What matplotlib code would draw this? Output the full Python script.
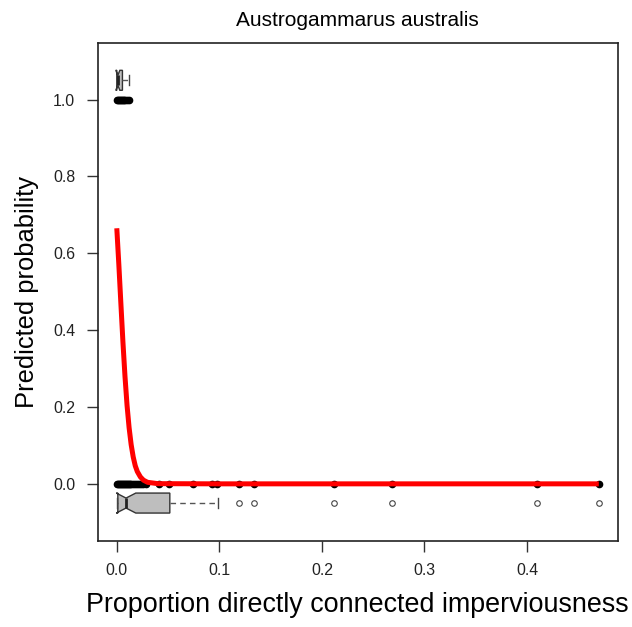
import matplotlib
matplotlib.use("Agg")
import matplotlib.pyplot as plt

plt.rcParams['font.family'] = ['Liberation Sans', 'DejaVu Sans']

# observed values (presence = 1, absence = 0)
x_present = [0.0, 0.001, 0.002, 0.003, 0.004, 0.005, 0.006, 0.007, 0.008, 0.010, 0.012]
x_absent = [0.0, 0.001, 0.002, 0.003, 0.004, 0.005, 0.006, 0.007, 0.008, 0.009,
            0.010, 0.011, 0.012, 0.013, 0.014, 0.016, 0.018, 0.020, 0.022, 0.024,
            0.026, 0.028, 0.041, 0.051, 0.074, 0.093, 0.098, 0.1195, 0.134,
            0.2115, 0.268, 0.41, 0.47]

# fitted curve
curve_x = [0.0, 0.002, 0.004, 0.006, 0.008, 0.010, 0.012, 0.014, 0.016, 0.018,
           0.020, 0.023, 0.026, 0.030, 0.040, 0.10, 0.20, 0.30, 0.47]
curve_p = [0.665, 0.57, 0.468, 0.368, 0.279, 0.204, 0.146, 0.102, 0.070, 0.047,
           0.032, 0.018, 0.0096, 0.004, 0.0005, 0.0, 0.0, 0.0, 0.0]

# boxplot summaries
box_absent = dict(whislo=0.0, q1=0.001, med=0.009, q3=0.0517, whishi=0.0987,
                  cilo=-0.0005, cihi=0.0185,
                  fliers=[0.1195, 0.134, 0.2115, 0.268, 0.41, 0.47])
box_present = dict(whislo=0.0, q1=0.0, med=0.001, q3=0.0055, whishi=0.0117,
                   cilo=-0.001, cihi=0.003, fliers=[])

fig = plt.figure(figsize=(6.32, 6.27), dpi=100)
ax = fig.add_axes([0.1543, 0.1376, 0.978 - 0.1543, 0.932 - 0.1376])

ax.plot(x_present, [1] * len(x_present), 'o', color='black', ms=4.5, zorder=3)
ax.plot(x_absent, [0] * len(x_absent), 'o', color='black', ms=4.5, zorder=3)
ax.plot(curve_x, curve_p, color='red', lw=3.6, zorder=4, solid_capstyle='butt')

ax.bxp([box_absent, box_present], positions=[-0.05, 1.05], widths=0.052,
       orientation='horizontal', shownotches=True, patch_artist=True,
       boxprops=dict(facecolor='#bebebe', edgecolor='#333333', lw=1),
       whiskerprops=dict(color='#555555', lw=1, ls=(0, (4, 3))),
       capprops=dict(color='#444444', lw=1),
       medianprops=dict(color='#222222', lw=2),
       flierprops=dict(marker='o', mfc='white', mec='#444444', ms=4, mew=0.8),
       manage_ticks=False)

ax.set_xlim(-0.0188, 0.4888)
ax.set_ylim(-0.148, 1.148)
ax.set_xticks([0.0, 0.1, 0.2, 0.3, 0.4])
ax.set_yticks([0.0, 0.2, 0.4, 0.6, 0.8, 1.0])
ax.xaxis.set_major_formatter(matplotlib.ticker.FormatStrFormatter('%.1f'))
ax.yaxis.set_major_formatter(matplotlib.ticker.FormatStrFormatter('%.1f'))
ax.tick_params(length=8, width=1, labelsize=11.4, pad=8, colors='#333333', labelcolor='#222222')
for s in ax.spines.values():
    s.set_linewidth(1.2)
    s.set_color('#222222')

ax.set_title("Austrogammarus australis", fontsize=15, pad=12)
ax.set_xlabel("Proportion directly connected imperviousness", fontsize=19.4, labelpad=10)
ax.set_ylabel("Predicted probability", fontsize=18.4, labelpad=10)

fig.savefig("out.png", dpi=100)
